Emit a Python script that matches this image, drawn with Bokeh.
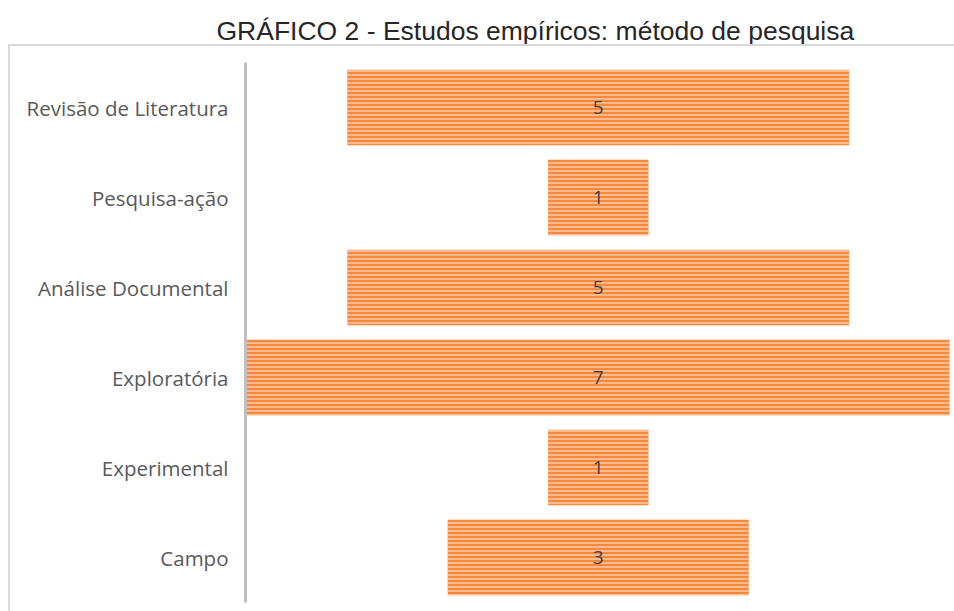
from bokeh.plotting import figure
from bokeh.models import ColumnDataSource, FactorRange, Range1d, InlineStyleSheet
from bokeh.core.properties import value
from bokeh.embed import file_html
from bokeh.resources import INLINE

title_text = "GRÁFICO 2 - Estudos empíricos: método de pesquisa"
categories = ["Revisão de Literatura", "Pesquisa-ação", "Análise Documental",
              "Exploratória", "Experimental", "Campo"]
counts = [5, 1, 5, 7, 1, 3]

cats_rev = categories[::-1]
src = ColumnDataSource(dict(
    cat=categories,
    n=counts,
    left=[-c / 2 for c in counts],
    right=[c / 2 for c in counts],
    lbl=[str(c) for c in counts],
))

frame_css = InlineStyleSheet(css="""
:host::after {
  content: "";
  position: absolute;
  left: 8px; top: 44px; right: -10px; bottom: -10px;
  border-top: 2px solid #D9D9D9;
  border-left: 2px solid #D9D9D9;
  pointer-events: none;
}
""")

p = figure(width=954, height=611, y_range=FactorRange(*cats_rev),
           x_range=Range1d(-3.515, 3.55),
           output_backend="svg", toolbar_location=None,
           min_border_left=245, min_border_right=0, min_border_top=62, min_border_bottom=9)
p.stylesheets = [frame_css]
p.outline_line_color = None
p.background_fill_color = "white"
p.border_fill_color = "white"
p.xaxis.visible = False
p.xgrid.grid_line_color = None
p.ygrid.grid_line_color = None

p.title.text = title_text
p.title.text_font = "Liberation Sans"
p.title.text_font_size = "26.5px"
p.title.text_font_style = "normal"
p.title.text_color = "#262626"
p.title.text_line_height = 0.75
p.title.align = "left"
p.title.offset = -29
p.title.standoff = 29
p.title.vertical_align = "top"

p.hbar(y="cat", left="left", right="right", height=0.84, source=src,
       fill_color="#F5883C", line_color=None,
       hatch_pattern="horizontal_line", hatch_color="#FDD3B5",
       hatch_scale=4, hatch_weight=1.5, hatch_alpha=0.9)

p.text(x=0, y="cat", text="lbl", source=src, text_align="center",
       text_baseline="middle", text_font=value("Open Sans"),
       text_font_size="19px", text_color="#404040")

ax = p.yaxis[0]
ax.axis_line_color = "#BFBFBF"
ax.axis_line_width = 3
ax.major_tick_line_color = None
ax.minor_tick_line_color = None
ax.major_label_text_font = "Open Sans"
ax.major_label_text_font_size = "20.5px"
ax.major_label_text_color = "#595959"
ax.major_label_standoff = 11

open("out.html", "w").write(file_html(p, INLINE))
